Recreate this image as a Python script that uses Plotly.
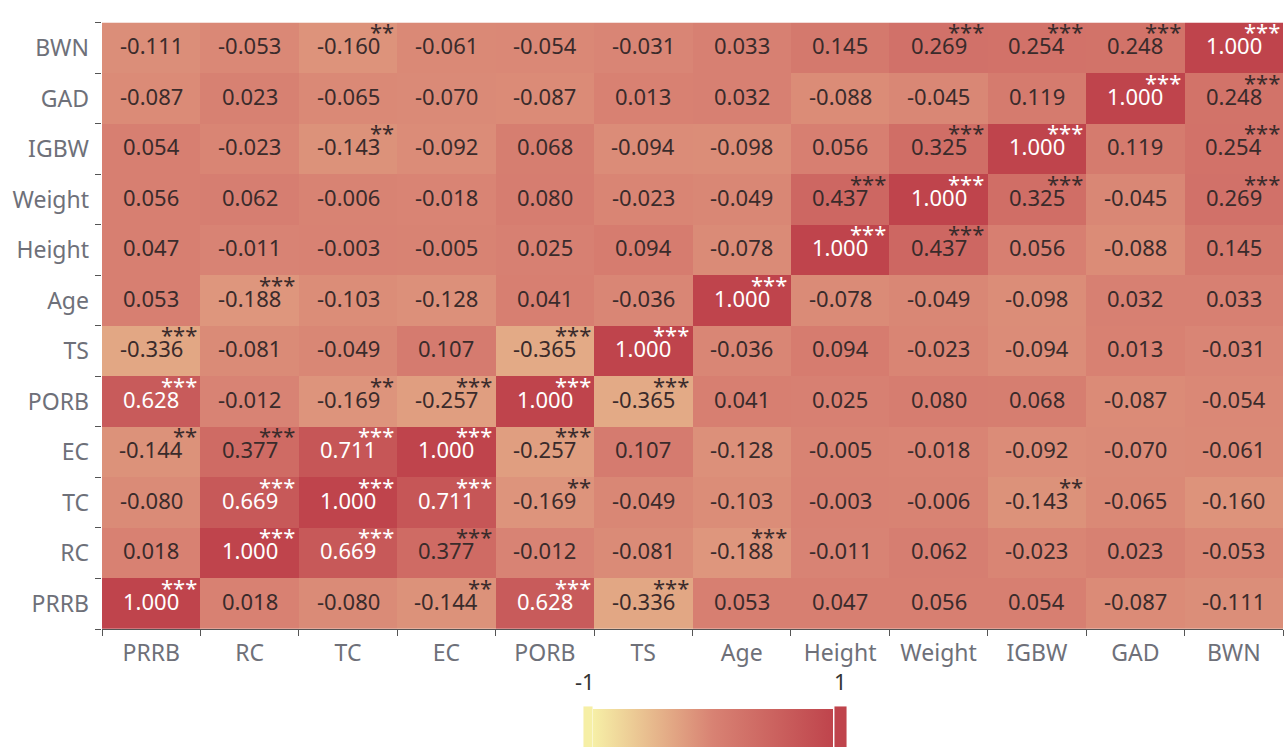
import plotly.graph_objects as go

labels = ["PRRB", "RC", "TC", "EC", "PORB", "TS", "Age", "Height", "Weight", "IGBW", "GAD", "BWN"]

# rows listed bottom (PRRB) to top (BWN); columns left to right in the same order
corr = [
    [1.000, 0.018, -0.080, -0.144, 0.628, -0.336, 0.053, 0.047, 0.056, 0.054, -0.087, -0.111],
    [0.018, 1.000, 0.669, 0.377, -0.012, -0.081, -0.188, -0.011, 0.062, -0.023, 0.023, -0.053],
    [-0.080, 0.669, 1.000, 0.711, -0.169, -0.049, -0.103, -0.003, -0.006, -0.143, -0.065, -0.160],
    [-0.144, 0.377, 0.711, 1.000, -0.257, 0.107, -0.128, -0.005, -0.018, -0.092, -0.070, -0.061],
    [0.628, -0.012, -0.169, -0.257, 1.000, -0.365, 0.041, 0.025, 0.080, 0.068, -0.087, -0.054],
    [-0.336, -0.081, -0.049, 0.107, -0.365, 1.000, -0.036, 0.094, -0.023, -0.094, 0.013, -0.031],
    [0.053, -0.188, -0.103, -0.128, 0.041, -0.036, 1.000, -0.078, -0.049, -0.098, 0.032, 0.033],
    [0.047, -0.011, -0.003, -0.005, 0.025, 0.094, -0.078, 1.000, 0.437, 0.056, -0.088, 0.145],
    [0.056, 0.062, -0.006, -0.018, 0.080, -0.023, -0.049, 0.437, 1.000, 0.325, -0.045, 0.269],
    [0.054, -0.023, -0.143, -0.092, 0.068, -0.094, -0.098, 0.056, 0.325, 1.000, 0.119, 0.254],
    [-0.087, 0.023, -0.065, -0.070, -0.087, 0.013, 0.032, -0.088, -0.045, 0.119, 1.000, 0.248],
    [-0.111, -0.053, -0.160, -0.061, -0.054, -0.031, 0.033, 0.145, 0.269, 0.254, 0.248, 1.000],
]

# significance marks per displayed cell (same layout as corr)
stars = [
    ["***", "", "", "**", "***", "***", "", "", "", "", "", ""],
    ["", "***", "***", "***", "", "", "***", "", "", "", "", ""],
    ["", "***", "***", "***", "**", "", "", "", "", "**", "", ""],
    ["**", "***", "***", "***", "***", "", "", "", "", "", "", ""],
    ["***", "", "**", "***", "***", "***", "", "", "", "", "", ""],
    ["***", "", "", "", "***", "***", "", "", "", "", "", ""],
    ["", "***", "", "", "", "", "***", "", "", "", "", ""],
    ["", "", "", "", "", "", "", "***", "***", "", "", ""],
    ["", "", "", "", "", "", "", "***", "***", "***", "", "***"],
    ["", "", "**", "", "", "", "", "", "***", "***", "", "***"],
    ["", "", "", "", "", "", "", "", "", "", "***", "***"],
    ["", "", "**", "", "", "", "", "", "***", "***", "***", "***"],
]

colorscale = [[0.0, "#f6efa6"], [0.5, "#d88273"], [1.0, "#bf444c"]]
FONT = "Noto Sans"
W, H = 1285, 747
ML, MR, MT, MB = 102, 2, 14, 118
PW, PH = W - ML - MR, H - MT - MB


def px_to_paper_x(px):
    return (px - ML) / PW


def px_to_paper_y(py):
    return (H - MB - py) / PH


fig = go.Figure()
fig.add_trace(go.Heatmap(
    z=corr, x=labels, y=labels, zmin=-1, zmax=1,
    colorscale=colorscale, xgap=0, ygap=0, hoverinfo="skip",
    colorbar=dict(
        orientation="h", lenmode="pixels", len=240, thickness=40,
        x=px_to_paper_x(713), xanchor="center",
        y=px_to_paper_y(709), yanchor="top", ypad=0, xpad=0,
        outlinewidth=0, showticklabels=False, ticks="",
    ),
))

annotations = []
for j, row in enumerate(corr):
    for i, v in enumerate(row):
        col = "#ffffff" if v >= 0.6 else "#3a2b2b"
        annotations.append(dict(
            x=i, y=j, xref="x", yref="y", text=f"{v:.3f}", showarrow=False,
            xanchor="center", yanchor="middle",
            font=dict(family=FONT, size=22, color=col), yshift=3,
        ))
        s = stars[j][i]
        if s:
            annotations.append(dict(
                x=i + 0.485, y=j, xref="x", yref="y", text=s, showarrow=False,
                xanchor="right", yanchor="middle",
                font=dict(family=FONT, size=22, color=col), yshift=17,
            ))

annotations.append(dict(x=px_to_paper_x(585), y=px_to_paper_y(681), xref="paper", yref="paper",
                        xanchor="center", yanchor="middle",
                        text="-1", showarrow=False, font=dict(family=FONT, size=22, color="#333333")))
annotations.append(dict(x=px_to_paper_x(840), y=px_to_paper_y(681), xref="paper", yref="paper",
                        xanchor="center", yanchor="middle",
                        text="1", showarrow=False, font=dict(family=FONT, size=22, color="#333333")))

shapes = [
    dict(type="rect", xref="paper", yref="paper",
         x0=px_to_paper_x(583), x1=px_to_paper_x(593),
         y0=px_to_paper_y(760), y1=px_to_paper_y(706),
         fillcolor="#f6efa6", line=dict(color="rgba(255,255,255,0.9)", width=1)),
    dict(type="rect", xref="paper", yref="paper",
         x0=px_to_paper_x(834), x1=px_to_paper_x(847),
         y0=px_to_paper_y(760), y1=px_to_paper_y(706),
         fillcolor="#bf444c", line=dict(color="rgba(255,255,255,0.9)", width=1)),
]

axis_font = dict(family=FONT, size=23, color="#6e7079")
fig.update_layout(
    width=W, height=H,
    margin=dict(l=ML, r=MR, t=MT, b=MB, autoexpand=False),
    paper_bgcolor="white", plot_bgcolor="white",
    annotations=annotations, shapes=shapes,
    xaxis=dict(type="category", tickson="boundaries", ticks="outside", ticklen=6,
               tickcolor="#555555", showline=True, linecolor="#555555", linewidth=1,
               tickfont=axis_font, showgrid=False, zeroline=False, fixedrange=True,
               automargin=False, ticklabelstandoff=3),
    yaxis=dict(type="category", tickson="boundaries", ticks="outside", ticklen=6,
               tickcolor="#555555", showline=False,
               tickfont=axis_font, showgrid=False, zeroline=False, fixedrange=True,
               automargin=False, ticklabelstandoff=12),
)

fig.write_html(
    "out.html",
    config={"displayModeBar": False},
    post_script="document.body.style.margin='0px';document.body.style.overflow='hidden';",
)
